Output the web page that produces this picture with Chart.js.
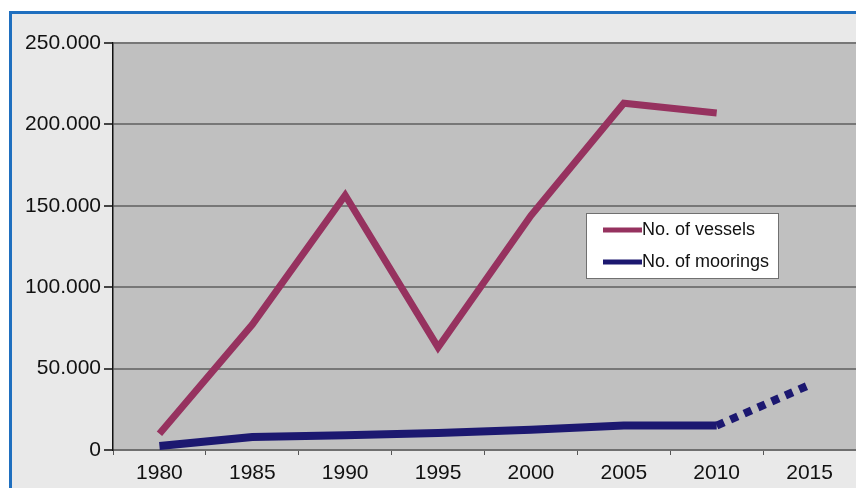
<!DOCTYPE html>
<html>
<head>
<meta charset="utf-8">
<script src="https://cdn.jsdelivr.net/npm/chart.js@4.4.0/dist/chart.umd.min.js"></script>
<style>
    body { margin: 0; background: #fff; }
    #frame {
        position: absolute; left: 9px; top: 11px; width: 850px; height: 480px;
        border-left: 3px solid #1f6fbf; border-top: 3px solid #1f6fbf;
        background: #e9e9e9;
    }
    #chart { position: absolute; left: 0; top: 0; }
</style>
</head>
<body>
<div id="frame"></div>
<canvas id="chart" width="856" height="488"></canvas>
<script>
// 연도 (x축)
var years = ['1980', '1985', '1990', '1995', '2000', '2005', '2010', '2015'];
// 선박 수
var vessels = [10000, 77000, 156500, 63000, 144000, 213000, 207000, null];
// 계류장 수 (2015는 점선 예측)
var moorings = [2500, 8000, 9000, 10500, 12500, 15000, 15000, 40000];
var seriesNames = ['No. of vessels', 'No. of moorings'];
var seriesColors = ['#96325f', '#1c1870'];
var yTicks = [0, 50000, 100000, 150000, 200000, 250000];

function fmtNum(v) {
    return String(v).replace(/\B(?=(\d{3})+(?!\d))/g, '.');
}

// 플롯 영역 배경
var plotBg = {
    id: 'plotBg',
    beforeDraw: function(chart) {
        var a = chart.chartArea, ctx = chart.ctx;
        ctx.save();
        ctx.fillStyle = '#c0c0c0';
        ctx.fillRect(a.left, a.top, a.right - a.left, a.bottom - a.top);
        ctx.restore();
    }
};

// 범례 박스 (플롯 안쪽)
var boxLegend = {
    id: 'boxLegend',
    afterDraw: function(chart) {
        var ctx = chart.ctx;
        var x = 586, y = 213, w = 192, h = 65;
        ctx.save();
        ctx.fillStyle = '#ffffff';
        ctx.fillRect(x, y, w, h);
        ctx.strokeStyle = '#707070';
        ctx.lineWidth = 1;
        ctx.strokeRect(x + 0.5, y + 0.5, w, h);
        ctx.font = '18px "Liberation Sans", Arial, sans-serif';
        ctx.textBaseline = 'middle';
        for (var i = 0; i < seriesNames.length; i++) {
            var cy = y + 17 + i * 32;
            ctx.strokeStyle = seriesColors[i];
            ctx.lineWidth = 5;
            ctx.beginPath();
            ctx.moveTo(x + 17, cy);
            ctx.lineTo(x + 56, cy);
            ctx.stroke();
            ctx.fillStyle = '#111';
            ctx.fillText(seriesNames[i], x + 56, cy);
        }
        ctx.restore();
    }
};

var ctx = document.getElementById('chart').getContext('2d');
var myChart = new Chart(ctx, {
    type: 'line',
    data: {
        labels: years,
        datasets: [{
            label: seriesNames[0],
            data: vessels,
            borderColor: seriesColors[0],
            borderWidth: 7,
            pointRadius: 0,
            tension: 0
        }, {
            label: seriesNames[1],
            data: moorings,
            borderColor: seriesColors[1],
            borderWidth: 8,
            pointRadius: 0,
            tension: 0,
            segment: {
                borderDash: function(c) { return c.p0DataIndex >= 6 ? [8, 7] : undefined; }
            }
        }]
    },
    options: {
        responsive: false,
        animation: false,
        layout: { padding: { top: 43, right: 0, left: 0, bottom: 0 } },
        plugins: {
            legend: { display: false },
            tooltip: { enabled: false }
        },
        scales: {
            x: {
                offset: true,
                grid: {
                    offset: true,
                    drawOnChartArea: false,
                    drawTicks: true,
                    tickLength: 5,
                    tickColor: '#555'
                },
                border: { color: '#6f6f6f', width: 2 },
                ticks: {
                    color: '#111',
                    padding: 6,
                    maxRotation: 0,
                    font: { family: '"Liberation Sans", Arial, sans-serif', size: 21 }
                },
                afterFit: function(scale) { scale.height = 38; }
            },
            y: {
                min: 0,
                max: 250000,
                afterBuildTicks: function(scale) {
                    scale.ticks = yTicks.map(function(v) { return { value: v }; });
                },
                grid: {
                    color: '#777777',
                    lineWidth: 2,
                    tickLength: 9,
                    tickColor: '#444'
                },
                border: { color: '#111', width: 1.5 },
                ticks: {
                    color: '#111',
                    padding: 3,
                    font: { family: '"Liberation Sans", Arial, sans-serif', size: 21 },
                    callback: function(v) { return fmtNum(v); }
                },
                afterFit: function(scale) { scale.width = 113; }
            }
        }
    },
    plugins: [plotBg, boxLegend]
});
</script>
</body>
</html>
